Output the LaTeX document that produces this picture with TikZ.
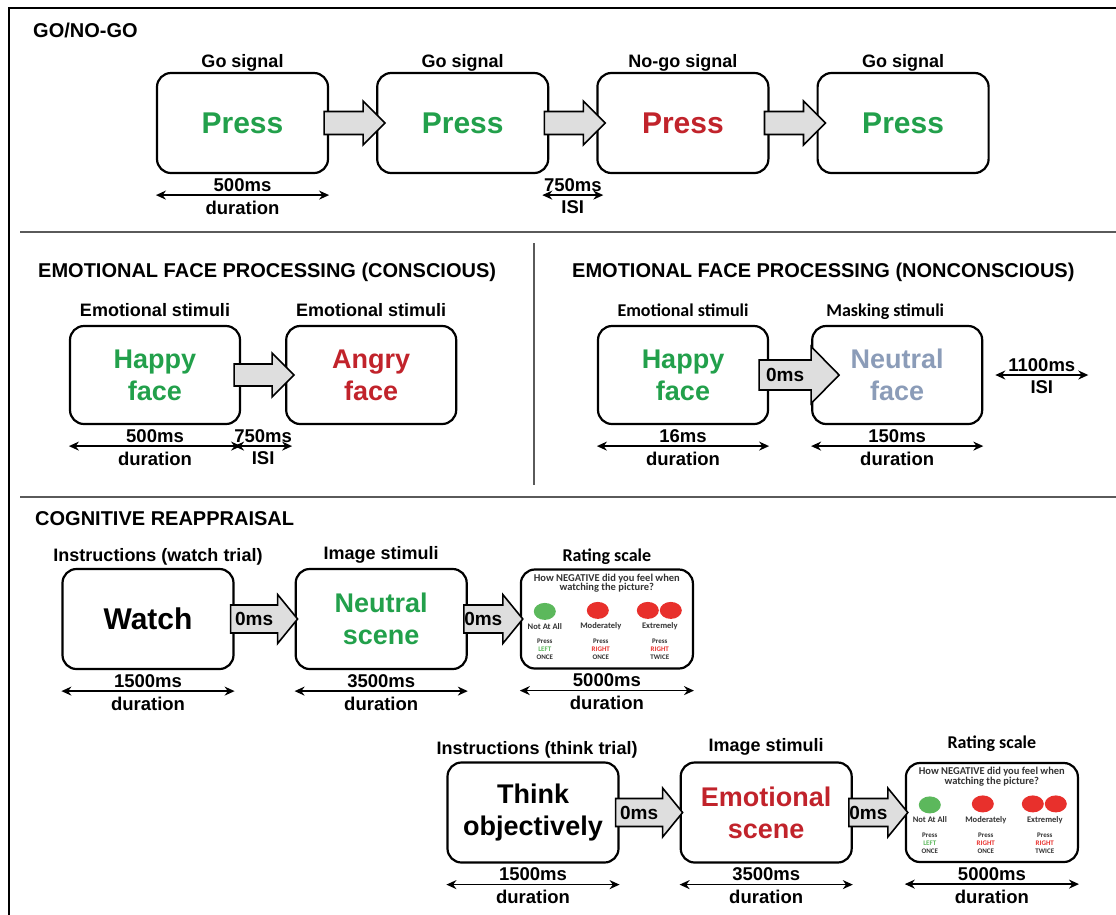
\documentclass[tikz,border=0pt]{standalone}
\usepackage{fontspec}
\setmainfont{Liberation Sans}
\newfontfamily\calfont{Carlito}
\usetikzlibrary{shapes.geometric, arrows.meta, positioning, calc}
\definecolor{pgreen}{HTML}{22A04B}
\definecolor{pred}{HTML}{C1232B}
\definecolor{pgrey}{HTML}{8B9CB8}
\definecolor{afill}{HTML}{DEDEDE}
\definecolor{rgreen}{HTML}{5CB85C}
\definecolor{rred}{HTML}{E8302C}
\definecolor{sepgrey}{HTML}{5A5A5A}

% block arrow: from, to, back inset, tip inset, shaft half, head half, head length, text
\newcommand{\blockarrow}[8]{%
  \coordinate (#1-as) at ($(#1.east)+(#3,0)$);
  \coordinate (#2-ah) at ($(#2.west)+(#4-#7,0)$);
  \coordinate (#2-at) at ($(#2.west)+(#4,0)$);
  \draw[bigarrow] ($(#1-as)+(0,-#5)$) -- ($(#2-ah)+(0,-#5)$) -- ($(#2-ah)+(0,-#6)$) -- (#2-at)
    -- ($(#2-ah)+(0,#6)$) -- ($(#2-ah)+(0,#5)$) -- ($(#1-as)+(0,#5)$) -- cycle;
  \node[zerolbl] (#1-#2) at ($(#1-as)!.5!(#2-ah)$) {#8};}

% duration under a box
\newcommand{\timing}[3]{%
  \coordinate (#1-dl) at ($(#1.south west)+(0,21)$);
  \coordinate (#1-dr) at ($(#1.south east)+(0,21)$);
  \draw[dur] (#1-dl) -- node[timelbl, above=3pt] (#1-ms) {#2} node[timelbl, below=5pt] (#1-dn) {#3} (#1-dr);}

% ISI between two boxes
\newcommand{\isi}[3]{%
  \coordinate (#1-il) at ($(#1.south east)+(-7,21)$);
  \coordinate (#2-ir) at ($(#2.south west)+(7,21)$);
  \draw[dur] (#1-il) -- node[timelbl, above=3pt] (#1-isi) {#3} node[timelbl, below=5pt] (#1-isiw) {ISI} (#2-ir);}

% rating scale contents
\newcommand{\ratingscale}[1]{%
  \begin{scope}[shift={(#1.north west)}]
    \node[rq] (#1-q) at (87,15) {How NEGATIVE did you feel when\\watching the picture?};
    \node[rdot, fill=rgreen] (#1-c1) at (25,43) {};
    \node[rdot, fill=rred] (#1-c2) at (78,42) {};
    \node[rdot, fill=rred] (#1-c3) at (128,42) {};
    \node[rdot, fill=rred] (#1-c4) at (151,42) {};
    \node[rl] (#1-l1) at (25,58) {Not At All};
    \node[rl] (#1-l2) at (81,58) {Moderately};
    \node[rl] (#1-l3) at (140,58) {Extremely};
    \node[rp] (#1-p1) at (25,81) {Press\\\textcolor{rgreen}{LEFT}\\ONCE};
    \node[rp] (#1-p2) at (81,81) {Press\\\textcolor{rred}{RIGHT}\\ONCE};
    \node[rp] (#1-p3) at (140,81) {Press\\\textcolor{rred}{RIGHT}\\TWICE};
  \end{scope}}

\begin{document}
\begin{tikzpicture}[x=1pt, y=-1pt]

\tikzstyle{box} = [rectangle, draw=black, line width=2.2pt, rounded corners=14pt, minimum width=171pt, minimum height=100pt, align=center, inner sep=0pt]
\tikzstyle{rating} = [box, minimum width=172pt, minimum height=99pt]
\tikzstyle{bigtxt} = [font=\bfseries\fontsize{30}{34}\selectfont]
\tikzstyle{twotxt} = [font=\bfseries\fontsize{27}{32}\selectfont]
\tikzstyle{lbl} = [font=\bfseries\fontsize{18}{20}\selectfont, inner sep=0pt, text height=13pt, text depth=4pt]
\tikzstyle{clbl} = [lbl, font=\calfont\bfseries\fontsize{18}{20}\selectfont]
\tikzstyle{title} = [font=\bfseries\fontsize{20}{24}\selectfont, anchor=base west, inner sep=0pt]
\tikzstyle{timelbl} = [font=\bfseries\fontsize{18.5}{20}\selectfont, inner sep=0pt]
\tikzstyle{zerolbl} = [font=\bfseries\fontsize{19}{20}\selectfont, inner sep=0pt]
\tikzstyle{dur} = [{Stealth[length=10pt,width=9pt]}-{Stealth[length=10pt,width=9pt]}, line width=1.6pt]
\tikzstyle{bigarrow} = [draw=black, fill=afill, line width=1.6pt, line join=miter]
\tikzstyle{sep} = [draw=sepgrey, line width=1.2pt]
\tikzstyle{rq} = [font=\calfont\bfseries\fontsize{10.5}{9.5}\selectfont, align=center, inner sep=0pt, text=black!80]
\tikzstyle{rl} = [font=\calfont\bfseries\fontsize{8.5}{9}\selectfont, inner sep=0pt, text=black!80]
\tikzstyle{rp} = [font=\calfont\bfseries\fontsize{7}{8}\selectfont, align=center, inner sep=0pt, text=black!80]
\tikzstyle{rdot} = [ellipse, minimum width=22pt, minimum height=17pt, inner sep=0pt]

\useasboundingbox (0,0) rectangle (1116,914);

% frame and separators
\draw[line width=2.5pt] (9,930) -- (9,8) -- (1130,8);
\draw[sep] (20,232) -- (1116,232);
\draw[sep] (20,497) -- (1116,497);
\draw[sep] (534,243) -- (534,485);

% Go/No-go
\node[title] (tgo) at (33,37) {GO/NO-GO};
\node[box, bigtxt, text=pgreen] (b1) at (242.5,123) {Press};
\node[box, bigtxt, text=pgreen, right=47pt of b1] (b2) {Press};
\node[box, bigtxt, text=pred, right=47pt of b2] (b3) {Press};
\node[box, bigtxt, text=pgreen, right=47pt of b3] (b4) {Press};
\node[lbl, above=0pt of b1] (g1) {Go signal};
\node[lbl, above=0pt of b2] (g2) {Go signal};
\node[lbl, above=0pt of b3] (g3) {No-go signal};
\node[lbl, above=0pt of b4] (g4) {Go signal};
\blockarrow{b1}{b2}{-5}{9}{11.5}{22}{22}{}
\blockarrow{b2}{b3}{-5}{9}{11.5}{22}{22}{}
\blockarrow{b3}{b4}{-5}{9}{11.5}{22}{22}{}
\timing{b1}{500ms}{duration}
\isi{b2}{b3}{750ms}

% Emotional faces, conscious
\node[title] (tcon) at (38,277) {EMOTIONAL FACE PROCESSING (CONSCIOUS)};
\node[box, twotxt, text=pgreen, minimum width=170pt, minimum height=98pt] (c1) at (155,375) {Happy\\face};
\node[box, twotxt, text=pred, minimum width=170pt, minimum height=98pt, right=44pt of c1] (c2) {Angry\\face};
\node[lbl, above=4pt of c1] (e1) {Emotional stimuli};
\node[lbl, above=4pt of c2] (e2) {Emotional stimuli};
\blockarrow{c1}{c2}{-7}{9}{11}{22}{22}{}
\timing{c1}{500ms}{duration}
\isi{c1}{c2}{750ms}

% Emotional faces, nonconscious
\node[title] (tnon) at (572,277) {EMOTIONAL FACE PROCESSING (NONCONSCIOUS)};
\node[box, twotxt, text=pgreen, minimum width=170pt, minimum height=98pt] (n1) at (683,375) {Happy\\face};
\node[box, twotxt, text=pgrey, minimum width=170pt, minimum height=98pt, right=42pt of n1] (n2) {Neutral\\face};
\node[clbl, above=4pt of n1] (e3) {Emotional stimuli};
\node[clbl, above=4pt of n2, xshift=-12pt] (e4) {Masking stimuli};
\blockarrow{n1}{n2}{-10}{28}{15}{28.5}{28}{0ms}
\timing{n1}{16ms}{duration}
\timing{n2}{150ms}{duration}
\coordinate (n2-il) at ($(n2.east)+(12,0)$);
\coordinate (n2-ir) at ($(n2.east)+(105,0)$);
\draw[dur] (n2-il) -- node[timelbl, above=3pt] (n2-isi) {1100ms} node[timelbl, below=5pt] (n2-isiw) {ISI} (n2-ir);

% Cognitive reappraisal, watch trial
\node[title] (tcog) at (35,525) {COGNITIVE REAPPRAISAL};
\node[box, bigtxt] (w1) at (148,619) {Watch};
\node[box, twotxt, text=pgreen, right=60pt of w1] (w2) {Neutral\\scene};
\node[rating, right=52pt of w2] (w3) {};
\ratingscale{w3}
\node[lbl, above=2pt of w1, xshift=10pt] (i1) {Instructions (watch trial)};
\node[lbl, above=4pt of w2] (i2) {Image stimuli};
\node[clbl, above=3pt of w3] (i3) {Rating scale};
\blockarrow{w1}{w2}{-4}{3}{14}{24.5}{20}{0ms}
\blockarrow{w2}{w3}{-4}{3}{14}{24.5}{20}{0ms}
\timing{w1}{1500ms}{duration}
\timing{w2}{3500ms}{duration}
\timing{w3}{5000ms}{duration}

% Cognitive reappraisal, think trial
\node[box, twotxt] (t1) at (533,812.5) {Think\\objectively};
\node[box, twotxt, text=pred, right=60pt of t1] (t2) {Emotional\\scene};
\node[rating, right=52pt of t2] (t3) {};
\ratingscale{t3}
\node[lbl, above=3pt of t1, xshift=4pt] (j1) {Instructions (think trial)};
\node[lbl, above=6pt of t2] (j2) {Image stimuli};
\node[clbl, above=9pt of t3] (j3) {Rating scale};
\blockarrow{t1}{t2}{-4}{3}{14}{24.5}{20}{0ms}
\blockarrow{t2}{t3}{-4}{3}{14}{24.5}{20}{0ms}
\timing{t1}{1500ms}{duration}
\timing{t2}{3500ms}{duration}
\timing{t3}{5000ms}{duration}

\end{tikzpicture}
\end{document}
